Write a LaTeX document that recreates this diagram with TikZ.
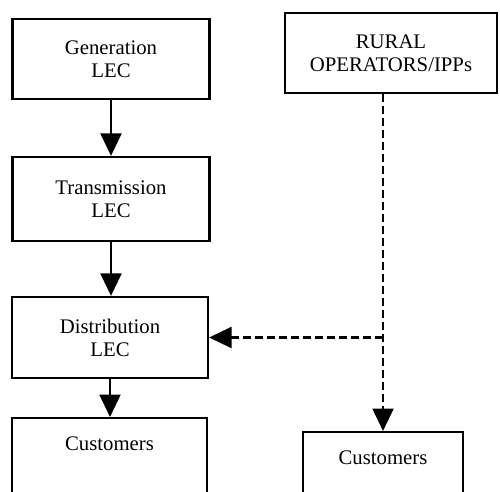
\documentclass[tikz,border=0pt]{standalone}
\usepackage{fontspec}
\setmainfont{Liberation Serif}
\usetikzlibrary{arrows.meta}
\tikzset{
  box/.style={draw, line width=1.3pt, rectangle, align=center, font=\fontsize{11.8}{13}\selectfont},
  custbox/.style={box, text height=0.54cm, text depth=2cm, inner sep=0.1cm},
  flow/.style={draw, line width=1.3pt, -{Triangle[length=0.45cm,width=0.42cm]}},
  dflow/.style={flow, dash pattern=on 0.16cm off 0.08cm}
}
\begin{document}
\begin{tikzpicture}
\useasboundingbox (0,0) rectangle (10,9.82);
\clip (0,0) rectangle (10,9.82);
\node[box, minimum width=3.94cm, minimum height=1.6cm] (gen) at (2.22,8.64) {Generation\\LEC};
\node[box, minimum width=3.94cm, minimum height=1.68cm] (trans) at (2.22,5.84) {Transmission\\LEC};
\node[box, minimum width=3.92cm, minimum height=1.62cm] (dist) at (2.2,3.07) {Distribution\\LEC};
\node[custbox, minimum width=3.9cm, anchor=north] (cust) at (2.19,1.48) {Customers};
\node[box, minimum width=4.24cm, minimum height=1.6cm] (rural) at (7.82,8.76) {RURAL\\OPERATORS/IPPs};
\node[custbox, minimum width=3.2cm, anchor=north] (rcust) at (7.66,1.2) {Customers};
\coordinate (junc) at (rcust.north |- dist.east);

\path[flow] (gen) -- (trans);
\path[flow] (trans) -- (trans.south |- dist.north);
\path[flow] (dist) -- (dist.south |- cust.north);
\path[dflow] (rural.south -| rcust.north) -- (rcust.north);
\path[dflow] (junc) -- (dist.east);
\end{tikzpicture}
\end{document}
